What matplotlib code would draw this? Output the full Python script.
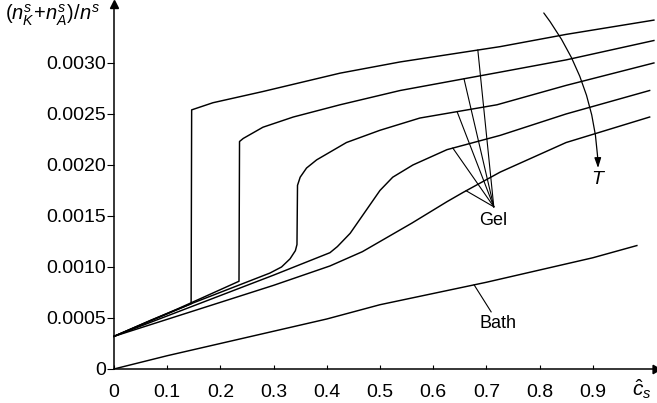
import numpy as np
import matplotlib
matplotlib.use("Agg")
import matplotlib.pyplot as plt

plt.rcParams['font.family'] = ['Liberation Sans', 'DejaVu Sans']
plt.rcParams['mathtext.fontset'] = 'custom'
plt.rcParams['mathtext.rm'] = 'Liberation Sans'
plt.rcParams['mathtext.it'] = 'Liberation Sans:italic'

# --- surface excess in the gel, five temperatures (lowest T first) ---
gel_x_1 = [0, 0.07, 0.145, 0.146, 0.186, 0.28, 0.425, 0.538, 0.726, 0.85, 1.015]
gel_y_1 = [0.00032, 0.00048, 0.00064, 0.00254, 0.00261, 0.00272, 0.0029, 0.00301, 0.00316, 0.00328, 0.00342]

gel_x_2 = [0, 0.12, 0.235, 0.236, 0.243, 0.28, 0.337, 0.425, 0.538, 0.726, 0.85, 1.015]
gel_y_2 = [0.00032, 0.00059, 0.00086, 0.00223, 0.00226, 0.00237, 0.00247, 0.00259, 0.00273, 0.00291, 0.00303, 0.00322]

gel_x_3 = [0, 0.15, 0.293, 0.315, 0.331, 0.341, 0.344, 0.345, 0.35, 0.362, 0.381, 0.437, 0.5, 0.575, 0.72, 0.85, 1.015]
gel_y_3 = [0.00032, 0.00065, 0.00094, 0.001, 0.00108, 0.00116, 0.00122, 0.0018, 0.00188, 0.00197, 0.00205, 0.00222, 0.00234, 0.00246, 0.00259, 0.00278, 0.0030]

gel_x_4 = [0, 0.15, 0.3, 0.406, 0.42, 0.444, 0.476, 0.5, 0.524, 0.562, 0.626, 0.726, 0.85, 1.007]
gel_y_4 = [0.00032, 0.00062, 0.00092, 0.00114, 0.0012, 0.00133, 0.00157, 0.00175, 0.00188, 0.002, 0.00215, 0.00229, 0.0025, 0.00273]

gel_x_5 = [0, 0.15, 0.3, 0.406, 0.467, 0.56, 0.626, 0.656, 0.726, 0.85, 1.007]
gel_y_5 = [0.00032, 0.00057, 0.00082, 0.00101, 0.00115, 0.00143, 0.00164, 0.00173, 0.00193, 0.00222, 0.00247]

# --- bath ---
bath_x = [0, 0.1, 0.2, 0.3, 0.4, 0.5, 0.6, 0.7, 0.8, 0.9, 0.983]
bath_y = [0, 0.00013, 0.00025, 0.00037, 0.00049, 0.00063, 0.00074, 0.00085, 0.00097, 0.00109, 0.00121]

x_ticks = [0, 0.1, 0.2, 0.3, 0.4, 0.5, 0.6, 0.7, 0.8, 0.9]
x_tick_labels = ['0', '0.1', '0.2', '0.3', '0.4', '0.5', '0.6', '0.7', '0.8', '0.9']
y_ticks = [0, 0.0005, 0.0010, 0.0015, 0.0020, 0.0025, 0.0030]
y_tick_labels = ['0', '0.0005', '0.0010', '0.0015', '0.0020', '0.0025', '0.0030']

# where the "Gel" pointers touch each curve
gel_pointer_x = [0.684, 0.658, 0.645, 0.637, 0.662]

fig = plt.figure(figsize=(6.57, 4.03), dpi=100)
ax = fig.add_axes([0.1735, 0.0844, 0.8234, 0.9057])

gel_curves = [(gel_x_1, gel_y_1), (gel_x_2, gel_y_2), (gel_x_3, gel_y_3),
              (gel_x_4, gel_y_4), (gel_x_5, gel_y_5)]
for gx, gy in gel_curves:
  ax.plot(gx, gy, color='black', lw=1.05, solid_joinstyle='round', clip_on=False)
ax.plot(bath_x, bath_y, color='black', lw=1.05)

ax.set_xlim(0, 1.017)
ax.set_ylim(0, 0.003578)

# Axes: only left and bottom, with arrowheads
for side in ('top', 'right'):
  ax.spines[side].set_visible(False)
for side in ('left', 'bottom'):
  ax.spines[side].set_linewidth(1.1)
ax.plot(1, 0, marker=(3, 0, -90), ms=7, color='black', transform=ax.transAxes, clip_on=False)
ax.plot(0, 1, marker='^', ms=6, color='black', transform=ax.transAxes, clip_on=False)

ax.set_xticks(x_ticks)
ax.set_xticklabels(x_tick_labels)
ax.set_yticks(y_ticks)
ax.set_yticklabels(y_tick_labels)
ax.tick_params(axis='x', direction='in', length=3, width=0.8, pad=11, labelsize=14)
ax.tick_params(axis='y', direction='out', length=5, width=0.8, pad=1, labelsize=14)

# Axis labels
fig.text(0.007, 0.963, r'$(n_K^s\!+\!n_A^s)/n^s$', fontsize=14.5, ha='left', va='center')
fig.text(0.992, 0.035, r'$\hat{c}_s$', fontsize=15, ha='right', va='center')

# "Gel" pointers fanning out from one point
hub = (0.714, 0.00159)
for gx_p, (gx, gy) in zip(gel_pointer_x, gel_curves):
  gy_p = np.interp(gx_p, gx, gy)
  ax.plot([hub[0], gx_p], [hub[1], gy_p], color='black', lw=0.8)
ax.text(0.712, 0.00146, 'Gel', fontsize=13, ha='center', va='center')

# "Bath" pointer
bath_px = 0.677
ax.plot([bath_px, 0.709], [np.interp(bath_px, bath_x, bath_y), 0.00056], color='black', lw=0.8)
ax.text(0.722, 0.00045, 'Bath', fontsize=13, ha='center', va='center')

# Temperature arrow
ax.annotate('', xy=(0.91, 0.00197), xytext=(0.808, 0.00349),
            arrowprops=dict(arrowstyle='-|>,head_length=0.6,head_width=0.2', color='black',
                            lw=0.9, shrinkA=0, shrinkB=0, connectionstyle='arc3,rad=-0.16'))
ax.text(0.91, 0.00186, r'$T$', fontsize=14, ha='center', va='center')

fig.savefig('out.png', dpi=100)
